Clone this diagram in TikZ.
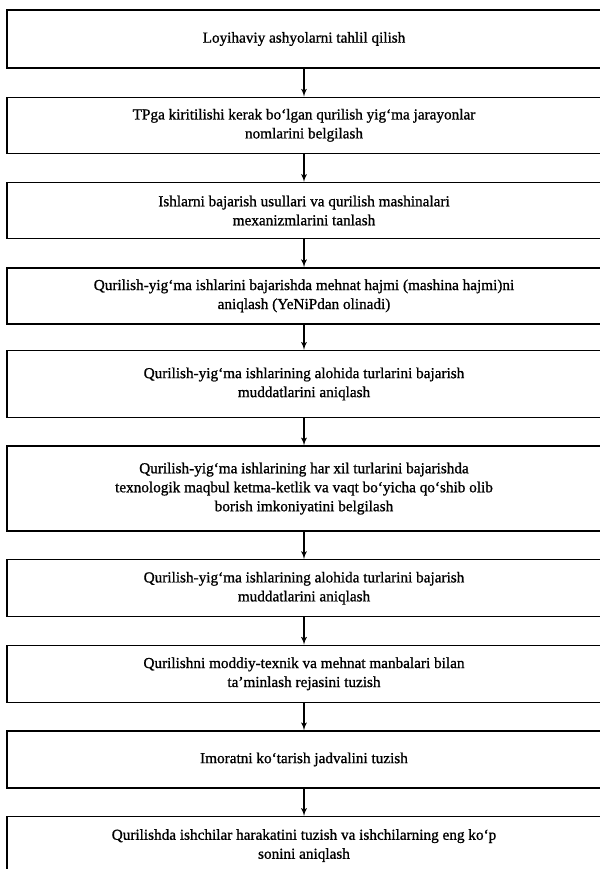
\documentclass[tikz,border=0pt]{standalone}
\usepackage{fontspec}
\setmainfont{Liberation Serif}[BoldFont=Liberation Serif, BoldFeatures={FakeBold=1}]
\usetikzlibrary{arrows, positioning}

\begin{document}
\begin{tikzpicture}[node distance=0.84cm, auto,
    box/.style={rectangle, draw=black, line width=1.1pt, minimum width=17.82cm, minimum height=1.68cm, inner sep=0pt, align=center, font=\fontsize{13}{16.2}\selectfont\bfseries},
    line/.style={draw, -latex', line width=1.3pt}]
    \useasboundingbox (0,0) rectangle (17.97,-26.07);
    \node [box, minimum height=1.74cm] (analysis) at (9.12,-1.17) {Loyihaviy ashyolarni tahlil qilish};
    \node [box, below=of analysis] (names) {TPga kiritilishi kerak bo‘lgan qurilish yig‘ma jarayonlar\\nomlarini belgilash};
    \node [box, below=of names] (methods) {Ishlarni bajarish usullari va qurilish mashinalari\\mexanizmlarini tanlash};
    \node [box, below=of methods] (labour) {Qurilish-yig‘ma ishlarini bajarishda mehnat hajmi (mashina hajmi)ni\\aniqlash (YeNiPdan olinadi)};
    \node [box, minimum height=2.01cm, below=0.76cm of labour] (terms) {Qurilish-yig‘ma ishlarining alohida turlarini bajarish\\muddatlarini aniqlash};
    \node [box, minimum height=2.55cm, below=0.82cm of terms] (sequence) {Qurilish-yig‘ma ishlarining har xil turlarini bajarishda\\texnologik maqbul ketma-ketlik va vaqt bo‘yicha qo‘shib olib\\borish imkoniyatini belgilash};
    \node [box, minimum height=1.71cm, below=0.82cm of sequence] (terms2) {Qurilish-yig‘ma ishlarining alohida turlarini bajarish\\muddatlarini aniqlash};
    \node [box, minimum height=1.71cm, below=0.82cm of terms2] (supply) {Qurilishni moddiy-texnik va mehnat manbalari bilan\\ta’minlash rejasini tuzish};
    \node [box, minimum height=1.71cm, below=0.82cm of supply] (schedule) {Imoratni ko‘tarish jadvalini tuzish};
    \node [box, minimum height=1.74cm, below=0.82cm of schedule] (workers) {Qurilishda ishchilar harakatini tuzish va ishchilarning eng ko‘p\\sonini aniqlash};
    \path [line] (analysis) -- (names);
    \path [line] (names) -- (methods);
    \path [line] (methods) -- (labour);
    \path [line] (labour) -- (terms);
    \path [line] (terms) -- (sequence);
    \path [line] (sequence) -- (terms2);
    \path [line] (terms2) -- (supply);
    \path [line] (supply) -- (schedule);
    \path [line] (schedule) -- (workers);
\end{tikzpicture}
\end{document}
